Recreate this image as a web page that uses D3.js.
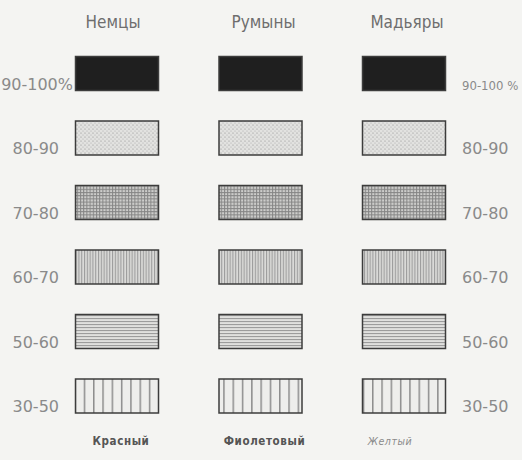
<!DOCTYPE html>
<html>
<head>
<meta charset="utf-8">
<script src="https://cdn.jsdelivr.net/npm/d3@7"></script>
<style>
  html, body { margin: 0; padding: 0; background: #f4f4f2; }
  svg { display: block; }
</style>
</head>
<body>
<div id="chart"></div>
<script>
// ---- data ----
const nationalities = ["Немцы", "Румыны", "Мадьяры"];
const colorNames = ["Красный", "Фиолетовый", "Желтый"];
const ranges = ["90-100%", "80-90", "70-80", "60-70", "50-60", "30-50"];
const rangesRight = ["90-100 %", "80-90", "70-80", "60-70", "50-60", "30-50"];
const hatchKinds = ["solid", "dots", "grid", "vdense", "hdense", "vsparse"];

const W = 522, H = 460;
const svg = d3.select("#chart").append("svg")
  .attr("width", W).attr("height", H);

svg.append("rect").attr("width", W).attr("height", H).attr("fill", "#f4f4f2");

const defs = svg.append("defs");

// dots
const pDots = defs.append("pattern").attr("id", "p-dots")
  .attr("patternUnits", "userSpaceOnUse").attr("width", 4).attr("height", 4);
pDots.append("rect").attr("width", 4).attr("height", 4).attr("fill", "#e2e2e0");
pDots.append("circle").attr("cx", 1).attr("cy", 1).attr("r", 0.6).attr("fill", "#8a8a8a");
pDots.append("circle").attr("cx", 3).attr("cy", 3).attr("r", 0.5).attr("fill", "#a0a0a0");

// grid
const pGrid = defs.append("pattern").attr("id", "p-grid")
  .attr("patternUnits", "userSpaceOnUse").attr("width", 3.2).attr("height", 3.2);
pGrid.append("rect").attr("width", 3.2).attr("height", 3.2).attr("fill", "#cdcdcb");
pGrid.append("path").attr("d", "M0,0.5H3.2M0.5,0V3.2").attr("stroke", "#858585").attr("stroke-width", 1);

// vertical dense
const pV = defs.append("pattern").attr("id", "p-vdense")
  .attr("patternUnits", "userSpaceOnUse").attr("width", 2.8).attr("height", 10);
pV.append("rect").attr("width", 2.8).attr("height", 10).attr("fill", "#dadad8");
pV.append("line").attr("x1", 0.6).attr("x2", 0.6).attr("y1", 0).attr("y2", 10)
  .attr("stroke", "#8c8c8c").attr("stroke-width", 0.9);

// horizontal dense
const pH = defs.append("pattern").attr("id", "p-hdense")
  .attr("patternUnits", "userSpaceOnUse").attr("width", 10).attr("height", 3);
pH.append("rect").attr("width", 10).attr("height", 3).attr("fill", "#e0e0de");
pH.append("line").attr("x1", 0).attr("x2", 10).attr("y1", 0.6).attr("y2", 0.6)
  .attr("stroke", "#8c8c8c").attr("stroke-width", 0.9);

// vertical sparse
const pVs = defs.append("pattern").attr("id", "p-vsparse")
  .attr("patternUnits", "userSpaceOnUse").attr("width", 9.3).attr("height", 10);
pVs.append("rect").attr("width", 9.3).attr("height", 10).attr("fill", "#eeeeec");
pVs.append("line").attr("x1", 0.8).attr("x2", 0.8).attr("y1", 0).attr("y2", 10)
  .attr("stroke", "#6a6a6a").attr("stroke-width", 1.1);

const fillFor = k => k === "solid" ? "#1f1f1f" : `url(#p-${k})`;

// ---- scales ----
const x = d3.scalePoint().domain(nationalities).range([117, 404]);
const y = d3.scalePoint().domain(ranges).range([73.5, 396]);
const rw = 83, rh = 34;

const condFont = "'DejaVu Sans Condensed', 'DejaVu Sans', sans-serif";
const labelFont = "'DejaVu Sans', sans-serif";

// headers
svg.append("g").selectAll("text").data(nationalities).join("text")
  .attr("x", d => x(d) + (d === "Немцы" ? -4 : 3))
  .attr("y", 28)
  .attr("text-anchor", "middle")
  .attr("font-family", condFont)
  .attr("font-size", 17)
  .attr("fill", "#6e6e6e")
  .text(d => d);

// boxes
const cells = [];
nationalities.forEach((n, ci) => ranges.forEach((r, ri) => cells.push({ n, r, k: hatchKinds[ri] })));

svg.append("g").selectAll("rect").data(cells).join("rect")
  .attr("x", d => x(d.n) - rw / 2)
  .attr("y", d => y(d.r) - rh / 2)
  .attr("width", rw).attr("height", rh)
  .attr("fill", d => fillFor(d.k))
  .attr("stroke", "#3c3c3c")
  .attr("stroke-width", 1.5);

// left labels
svg.append("g").selectAll("text").data(ranges).join("text")
  .attr("x", (d, i) => i === 0 ? 73 : 59)
  .attr("y", d => y(d) + rh / 2 - 1)
  .attr("text-anchor", "end")
  .attr("font-family", labelFont)
  .attr("font-size", 16)
  .attr("fill", "#8a8a8a")
  .text(d => d);

// right labels
svg.append("g").selectAll("text").data(rangesRight).join("text")
  .attr("x", 462)
  .attr("y", (d, i) => y(ranges[i]) + rh / 2 - 1)
  .attr("text-anchor", "start")
  .attr("font-family", (d, i) => i === 0 ? condFont : labelFont)
  .attr("font-size", (d, i) => i === 0 ? 13 : 16)
  .attr("fill", "#8a8a8a")
  .text(d => d);

// bottom color names
svg.append("g").selectAll("text").data(colorNames).join("text")
  .attr("x", (d, i) => x(nationalities[i]) + (i === 2 ? -14 : 4))
  .attr("y", 445)
  .attr("text-anchor", "middle")
  .attr("font-family", condFont)
  .attr("font-size", (d, i) => i === 2 ? 10.5 : 11.5)
  .attr("font-weight", (d, i) => i === 2 ? 400 : 700)
  .attr("font-style", (d, i) => i === 2 ? "italic" : "normal")
  .attr("fill", (d, i) => i === 2 ? "#8a8a8a" : "#555555")
  .attr("letter-spacing", 0.6)
  .text(d => d);
</script>
</body>
</html>
